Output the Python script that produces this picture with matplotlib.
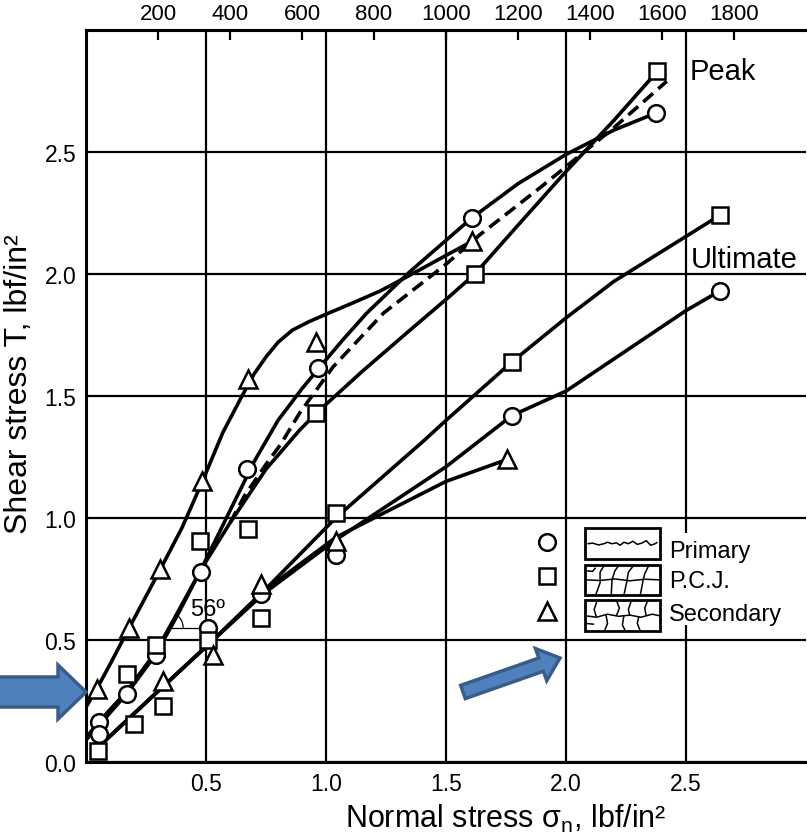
"""
Shear stress vs normal stress for primary, P.C.J. and secondary joints.
Peak and ultimate strength envelopes, redrawn from a scanned figure.
"""

import numpy as np
import matplotlib
matplotlib.use("Agg")
import matplotlib.pyplot as plt
from matplotlib.patches import Rectangle, Arc, FancyArrow
from matplotlib.transforms import IdentityTransform

plt.rcParams['font.family'] = ['Liberation Sans', 'DejaVu Sans']
plt.rcParams['mathtext.default'] = 'regular'

# ---- measured points (lbf/in²) ----
circle_x = [0.054, 0.054, 0.17, 0.29, 0.48, 0.51, 0.67, 0.73, 0.967, 1.04, 1.608, 1.775, 2.375, 2.64]
circle_y = [0.164, 0.115, 0.28, 0.44, 0.78, 0.55, 1.20, 0.69, 1.615, 0.85, 2.23, 1.42, 2.66, 1.93]

square_x = [0.05, 0.17, 0.20, 0.29, 0.32, 0.475, 0.51, 0.675, 0.73, 0.96, 1.04, 1.62, 1.775, 2.38, 2.64]
square_y = [0.045, 0.36, 0.155, 0.48, 0.23, 0.905, 0.50, 0.955, 0.59, 1.43, 1.02, 2.0, 1.64, 2.83, 2.24]

tri_x = [0.045, 0.18, 0.31, 0.32, 0.485, 0.53, 0.675, 0.73, 0.958, 1.04, 1.61, 1.755]
tri_y = [0.30, 0.55, 0.79, 0.33, 1.15, 0.44, 1.57, 0.73, 1.72, 0.905, 2.135, 1.24]

# ---- hand-drawn envelopes ----
# peak envelopes
sec_peak_x = [0.0, 0.045, 0.10, 0.18, 0.31, 0.40, 0.485, 0.57, 0.65, 0.70, 0.75, 0.80, 0.86,
              0.93, 1.0, 1.12, 1.225, 1.34, 1.47, 1.61]
sec_peak_y = [0.225, 0.30, 0.40, 0.55, 0.79, 0.96, 1.15, 1.35, 1.50, 1.59, 1.66, 1.72, 1.77,
              1.805, 1.835, 1.885, 1.93, 1.99, 2.06, 2.135]

pri_peak_x = [0.0, 0.054, 0.17, 0.29, 0.38, 0.48, 0.56, 0.63, 0.70, 0.80, 0.90, 0.967, 1.07,
              1.17, 1.35, 1.608, 1.80, 2.0, 2.2, 2.375]
pri_peak_y = [0.10, 0.165, 0.29, 0.45, 0.61, 0.79, 0.95, 1.09, 1.23, 1.40, 1.53, 1.61, 1.73,
              1.84, 2.01, 2.23, 2.37, 2.49, 2.59, 2.66]

pcj_peak_x = [0.0, 0.054, 0.17, 0.29, 0.38, 0.48, 0.60, 0.75, 0.89, 0.96, 1.15, 1.35, 1.517,
              1.62, 1.80, 2.0, 2.2, 2.38]
pcj_peak_y = [0.09, 0.15, 0.28, 0.44, 0.60, 0.79, 0.98, 1.20, 1.36, 1.43, 1.60, 1.77, 1.91,
              2.00, 2.20, 2.42, 2.63, 2.83]

mean_peak_x = [0.60, 0.66, 0.75, 0.81, 0.89, 1.03, 1.24, 1.5, 1.64, 1.90, 2.2, 2.42]
mean_peak_y = [0.98, 1.09, 1.22, 1.30, 1.43, 1.62, 1.84, 2.04, 2.16, 2.36, 2.60, 2.79]

# ultimate envelopes
pcj_ult_x = [0.05, 0.30, 0.53, 0.74, 1.04, 1.4, 1.5, 1.775, 2.0, 2.2, 2.64]
pcj_ult_y = [0.06, 0.29, 0.50, 0.70, 1.00, 1.31, 1.40, 1.64, 1.82, 1.97, 2.24]

pri_ult_x = [0.05, 0.30, 0.53, 0.74, 1.04, 1.5, 1.775, 2.0, 2.5, 2.64]
pri_ult_y = [0.06, 0.29, 0.50, 0.69, 0.91, 1.21, 1.42, 1.52, 1.85, 1.93]

sec_ult_x = [0.05, 0.30, 0.53, 0.74, 1.04, 1.5, 1.755]
sec_ult_y = [0.06, 0.29, 0.50, 0.70, 0.92, 1.15, 1.24]

x_ticks = [0.5, 1.0, 1.5, 2.0, 2.5]
y_ticks = [0.0, 0.5, 1.0, 1.5, 2.0, 2.5]
top_ticks = [200, 400, 600, 800, 1000, 1200, 1400, 1600, 1800]
TOP_SCALE = 2000 / 3          # top scale units per lbf/in²

LW = 2.6
MARKER = dict(mfc='white', mec='black', mew=1.8, ls='none', zorder=5)


def draw_texture(ax, x0, y0, w, h, segs):
    """Draw crack pattern segs (unit coords) inside a legend box."""
    ax.add_patch(Rectangle((x0, y0), w, h, fc='white', ec='black', lw=2.0, zorder=6))
    for u, v in segs:
        ax.plot(x0 + w * np.array(u), y0 + h * np.array(v), color='black', lw=1.1,
                zorder=7, solid_capstyle='butt')


fig = plt.figure(figsize=(8.07, 8.37), dpi=100)
ax = fig.add_axes([86 / 807, 74 / 837, 720 / 807, 732 / 837])
ax.set_xlim(0, 3.0)
ax.set_ylim(0, 3.0)

# grid
ax.set_xticks(x_ticks)
ax.set_yticks(y_ticks)
ax.set_xticklabels([f'{t:.1f}' for t in x_ticks])
ax.set_yticklabels([f'{t:.1f}' for t in y_ticks])
ax.grid(True, color='black', lw=1.6)
ax.set_axisbelow(True)
ax.tick_params(axis='both', length=0, labelsize=16.5)
ax.tick_params(axis='x', pad=7)
ax.tick_params(axis='y', pad=7)
for side in ['left', 'bottom', 'top']:
    ax.spines[side].set_linewidth(2.2)
ax.spines['right'].set_visible(False)

# envelopes
for xs, ys in [(sec_peak_x, sec_peak_y), (pri_peak_x, pri_peak_y), (pcj_peak_x, pcj_peak_y),
               (pcj_ult_x, pcj_ult_y), (pri_ult_x, pri_ult_y), (sec_ult_x, sec_ult_y)]:
    ax.plot(xs, ys, color='black', lw=LW, zorder=3, solid_joinstyle='round')
ax.plot(mean_peak_x, mean_peak_y, color='black', lw=LW, dashes=(3.6, 1.9), zorder=3)

# measured points
ax.plot(circle_x, circle_y, marker='o', ms=12, **MARKER)
ax.plot(square_x, square_y, marker='s', ms=11.5, **MARKER)
ax.plot(tri_x, tri_y, marker='^', ms=12.5, **MARKER)

# friction angle
ax.plot([0.34, 0.47], [0.55, 0.55], color='black', lw=0.9, zorder=3)
ax.add_patch(Arc((0.34, 0.55), 0.13, 0.13, theta1=0, theta2=56, color='black', lw=0.9, zorder=3))
ax.text(0.505, 0.625, '56º', fontsize=17, ha='center', va='center', zorder=6)

ax.text(2.515, 2.83, 'Peak', fontsize=21, ha='left', va='center')
ax.text(2.52, 2.06, 'Ultimate', fontsize=21, ha='left', va='center')

# legend
ax.add_patch(Rectangle((2.41, 0.56), 0.58, 0.38, fc='white', ec='none', zorder=2))
bx, bw, bh = 2.08, 0.31, 0.125
draw_texture(ax, bx, 0.832, bw, bh, [
    ([0.03, 0.1, 0.18, 0.25, 0.3, 0.36, 0.42, 0.47, 0.52, 0.58, 0.64, 0.7, 0.76, 0.82, 0.88, 0.94, 0.97],
     [0.5, 0.52, 0.46, 0.5, 0.55, 0.5, 0.53, 0.45, 0.55, 0.5, 0.58, 0.48, 0.52, 0.6, 0.45, 0.5, 0.55])])
draw_texture(ax, bx, 0.684, bw, bh, [
    ([0.0, 0.2, 0.4, 0.6, 0.8, 1.0], [0.5, 0.48, 0.53, 0.47, 0.52, 0.5]),
    ([0.26, 0.2, 0.2, 0.14], [1.0, 0.75, 0.4, 0.0]),
    ([0.46, 0.4, 0.36, 0.35], [1.0, 0.8, 0.5, 0.0]),
    ([0.66, 0.58, 0.56, 0.52], [1.0, 0.75, 0.45, 0.0]),
    ([0.86, 0.8, 0.78, 0.74], [1.0, 0.7, 0.5, 0.0]),
    ([0.0, 0.1, 0.14], [0.8, 0.78, 0.9])])
draw_texture(ax, bx, 0.537, bw, bh, [
    ([0.0, 0.15, 0.3, 0.45, 0.6, 0.75, 0.9, 1.0], [0.5, 0.45, 0.55, 0.48, 0.52, 0.45, 0.55, 0.5]),
    ([0.16, 0.12, 0.15], [1.0, 0.7, 0.47]),
    ([0.42, 0.46, 0.42], [1.0, 0.75, 0.5]),
    ([0.62, 0.58, 0.6], [1.0, 0.7, 0.5]),
    ([0.84, 0.8, 0.82], [1.0, 0.75, 0.5]),
    ([0.28, 0.3, 0.26], [0.52, 0.25, 0.0]),
    ([0.52, 0.5, 0.54], [0.5, 0.2, 0.0]),
    ([0.72, 0.7, 0.74], [0.47, 0.25, 0.0]),
    ([0.0, 0.12], [0.25, 0.22])])
ax.plot([1.92], [0.90], marker='o', ms=12, **MARKER)
ax.plot([1.92], [0.762], marker='s', ms=11.5, **MARKER)
ax.plot([1.92], [0.619], marker='^', ms=12.5, **MARKER)
ax.text(2.43, 0.865, 'Primary', fontsize=17, ha='left', va='center', zorder=6)
ax.text(2.43, 0.742, 'P.C.J.', fontsize=17, ha='left', va='center', zorder=6)
ax.text(2.43, 0.607, 'Secondary', fontsize=17, ha='left', va='center', zorder=6)

# top scale
secax = ax.secondary_xaxis('top', functions=(lambda x: x * TOP_SCALE, lambda t: t / TOP_SCALE))
secax.set_xticks(top_ticks)
secax.tick_params(direction='in', length=7, width=1.6, labelsize=16, pad=4)
secax.spines['top'].set_linewidth(2.2)

ax.set_xlabel('Normal stress σ$_{n}$, lbf/in²', fontsize=22)
ax.xaxis.set_label_coords(0.583, -0.054)
ax.set_ylabel('Shear stress T, lbf/in²', fontsize=23)
ax.yaxis.set_label_coords(-0.072, 0.518)

# blue call-out arrows (pixel coordinates of the output image)
H = 837
for x0, y0, x1, y1, w, hw, hl in [(-6, 693, 86, 693, 30, 54, 28),
                                   (463, 693, 560, 659, 14, 34, 20)]:
    fig.patches.append(FancyArrow(x0, H - y0, x1 - x0, y0 - y1, width=w, head_width=hw,
                                  head_length=hl, length_includes_head=True,
                                  fc='#4F81BD', ec='#385D8A', lw=2.5,
                                  transform=IdentityTransform(), figure=fig))

fig.savefig('out.png', dpi=100)
